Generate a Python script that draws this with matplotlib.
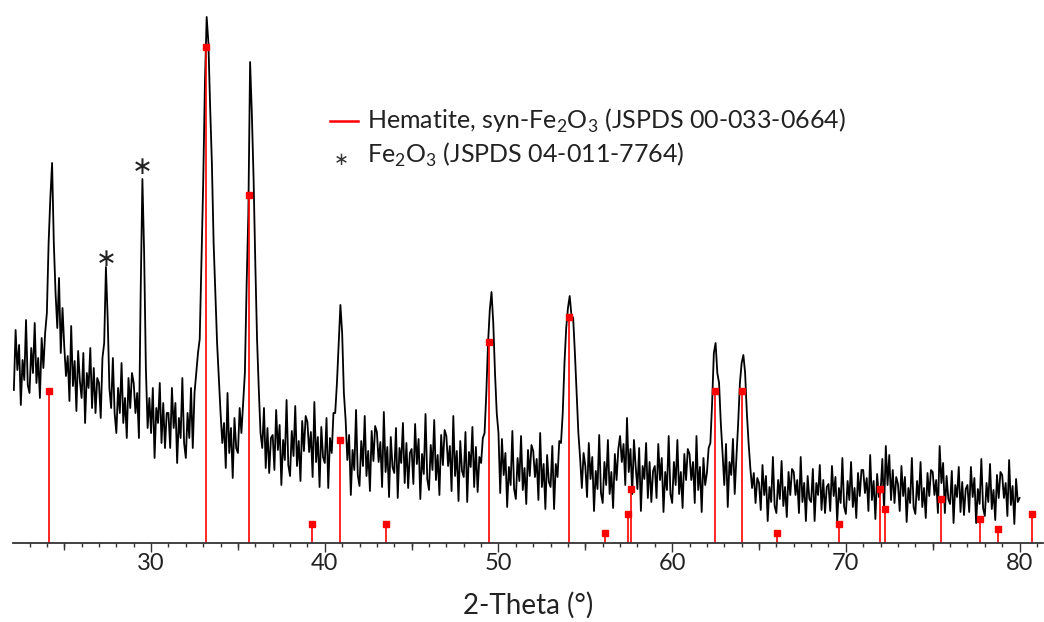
import matplotlib.pyplot as plt
import numpy as np
from matplotlib.ticker import MultipleLocator, FuncFormatter

plt.rcParams['font.family'] = ['Lato', 'DejaVu Sans']
plt.rcParams['mathtext.fontset'] = 'custom'
plt.rcParams['mathtext.rm'] = 'Lato'

# measured pattern, 2-theta 22.1 .. 80.0 in 0.1 steps (intensity, a.u.)
theta_start = 22.1
theta_step = 0.1
intensity = [
    153, 213, 173, 198, 138, 183, 163, 223, 158,
    150, 195, 170, 220, 160, 185, 145, 205, 175, 210,
    230, 300, 345, 380, 300, 250, 215, 265, 190, 235,
    197, 167, 187, 142, 217, 157, 182, 132, 192, 162,
    145, 190, 120, 170, 155, 195, 135, 175, 130, 165,
    160, 125, 185, 200, 276, 225, 155, 135, 185, 130,
    110, 155, 130, 180, 120, 145, 105, 165, 135, 170,
    160, 130, 150, 105, 250, 364, 290, 175, 115, 145,
    110, 155, 85, 135, 120, 160, 100, 140, 95, 130,
    130, 95, 155, 115, 140, 80, 125, 105, 165, 100,
    85, 130, 105, 155, 95, 150, 170, 190, 204, 280,
    360, 460, 526, 500, 436, 380, 300, 250, 200, 165,
    130, 100, 120, 75, 150, 90, 115, 65, 125, 95,
    90, 135, 110, 140, 170, 258, 330, 481, 430, 365,
    280, 204, 154, 110, 95, 135, 75, 115, 70, 105,
    108, 73, 133, 93, 118, 58, 103, 83, 143, 78,
    67, 112, 87, 137, 77, 102, 62, 122, 92, 127,
    121, 91, 111, 66, 141, 81, 106, 56, 116, 86,
    80, 125, 55, 105, 90, 130, 130, 160, 200, 238,
    210, 150, 123, 83, 108, 48, 93, 73, 133, 68,
    57, 102, 77, 127, 67, 92, 52, 112, 82, 117,
    111, 81, 101, 56, 131, 71, 96, 46, 106, 76,
    70, 115, 45, 95, 80, 120, 60, 100, 55, 90,
    94, 59, 119, 79, 104, 44, 89, 69, 129, 64,
    53, 98, 73, 123, 63, 88, 48, 108, 78, 113,
    107, 77, 97, 52, 127, 67, 92, 42, 102, 72,
    66, 111, 41, 91, 76, 116, 56, 96, 51, 86,
    80, 105, 110, 150, 200, 233, 251, 220, 170, 130,
    110, 50, 104, 68, 90, 36, 76, 58, 112, 54,
    44, 85, 62, 107, 53, 75, 39, 93, 67, 98,
    92, 66, 84, 43, 110, 56, 79, 34, 88, 61,
    56, 97, 34, 79, 66, 102, 100, 130, 180, 215,
    235, 247, 228, 225, 190, 150, 110, 85, 55, 90,
    77, 46, 100, 64, 86, 32, 72, 54, 108, 50,
    40, 81, 58, 103, 49, 71, 35, 89, 63, 94,
    107, 81, 99, 58, 125, 71, 94, 49, 103, 76,
    54, 95, 32, 77, 64, 100, 45, 81, 41, 72,
    77, 45, 99, 63, 85, 31, 71, 53, 107, 49,
    40, 81, 58, 103, 49, 71, 35, 89, 63, 94,
    89, 63, 81, 40, 107, 53, 76, 31, 85, 58,
    70, 95, 100, 140, 190, 200, 170, 160, 120, 90,
    58, 99, 36, 81, 68, 104, 49, 86, 120, 160,
    180, 188, 170, 130, 100, 75, 55, 70, 40, 65,
    60, 33, 78, 48, 67, 22, 56, 41, 86, 37,
    30, 63, 44, 82, 37, 56, 26, 71, 48, 74,
    71, 48, 63, 30, 86, 41, 60, 22, 67, 44,
    41, 74, 22, 60, 48, 78, 33, 63, 30, 56,
    59, 32, 77, 47, 66, 21, 55, 40, 85, 36,
    29, 62, 43, 81, 36, 55, 25, 70, 47, 73,
    73, 50, 65, 32, 88, 43, 62, 24, 69, 46,
    51, 84, 32, 97, 58, 88, 43, 73, 40, 66,
    59, 32, 77, 47, 66, 21, 55, 40, 85, 36,
    29, 62, 43, 81, 36, 55, 25, 70, 47, 73,
    71, 48, 63, 30, 97, 60, 80, 30, 67, 44,
    39, 72, 20, 58, 46, 76, 31, 61, 28, 54,
    58, 31, 76, 46, 65, 20, 54, 39, 84, 35,
    27, 60, 41, 79, 34, 53, 23, 68, 45, 71,
    68, 45, 60, 27, 83, 38, 57, 19, 64, 41,
    45,
]

# Hematite reference lines (JSPDS 00-033-0664)
ref_theta = [24.14, 33.18, 35.62, 39.28, 40.86, 43.52, 49.46, 54.08, 56.15,
             57.45, 57.62, 62.47, 64.0, 66.03, 69.6, 71.95, 72.28, 75.45,
             77.75, 78.78, 80.72]
ref_height = [152, 496, 348, 19, 103, 19, 201, 226, 10,
              29, 54, 152, 152, 10, 19, 54, 34, 44,
              24, 14, 29]

# Fe2O3 (JSPDS 04-011-7764) peaks marked with *
star_theta = [27.45, 29.5]
star_height = [287, 379]

theta = theta_start + theta_step * np.arange(len(intensity))

fig = plt.figure(figsize=(10.44, 6.22), dpi=100)
ax = fig.add_axes([13 / 1044, 79 / 622, 1030 / 1044, 543 / 622])

ax.plot(theta, intensity, color='black', lw=1.3)
ax.vlines(ref_theta, 0, ref_height, color='#ff0000', lw=1.2)
ax.plot(ref_theta, ref_height, 's', color='#ff0000', ms=4.5, mec='#ff0000')
for t, h in zip(star_theta, star_height):
    ax.text(t, h, '∗', fontsize=18, ha='center', va='center_baseline', color='#222222',
            family='DejaVu Sans')

ax.set_xlim(22.05, 81.35)
ax.set_ylim(0, 543)
for s in ['left', 'right', 'top']:
    ax.spines[s].set_visible(False)
ax.spines['bottom'].set_linewidth(1.3)
ax.spines['bottom'].set_color('#333333')
ax.set_yticks([])
ax.xaxis.set_major_locator(MultipleLocator(10))
ax.xaxis.set_minor_locator(MultipleLocator(1))
ax.xaxis.set_major_formatter(FuncFormatter(lambda v, p: '%d' % v))
ax.tick_params(axis='x', which='major', length=6.5, width=1, direction='out', labelsize=17, pad=0.5,
               color='#333333', labelcolor='#222222')
ax.tick_params(axis='x', which='minor', length=3, width=1, direction='out', color='#333333')

# medium ticks at the odd fives
sec = ax.secondary_xaxis(0)
sec.set_xticks([25, 35, 45, 55, 65, 75])
sec.set_xticklabels([])
sec.tick_params(length=5, width=1, color='#333333')
sec.spines['bottom'].set_visible(False)

ax.set_xlabel('2-Theta (°)', fontsize=20, labelpad=13, color='#222222')

# legend drawn by hand in figure pixels
fig.lines.append(plt.Line2D([330 / 1044, 358 / 1044], [1 - 121 / 622] * 2, color='#ff0000', lw=1.8,
                            transform=fig.transFigure))
fig.text(367 / 1044, 1 - 121 / 622, 'Hematite, syn-Fe$_2$O$_3$ (JSPDS 00-033-0664)', fontsize=18,
         va='center', color='#222222')
fig.text(341 / 1044, 1 - 158 / 622, '∗', fontsize=13, va='center_baseline', ha='center', color='#333333',
         family='DejaVu Sans')
fig.text(367 / 1044, 1 - 155 / 622, 'Fe$_2$O$_3$ (JSPDS 04-011-7764)', fontsize=18,
         va='center', color='#222222')

fig.savefig('out.png', dpi=100)
